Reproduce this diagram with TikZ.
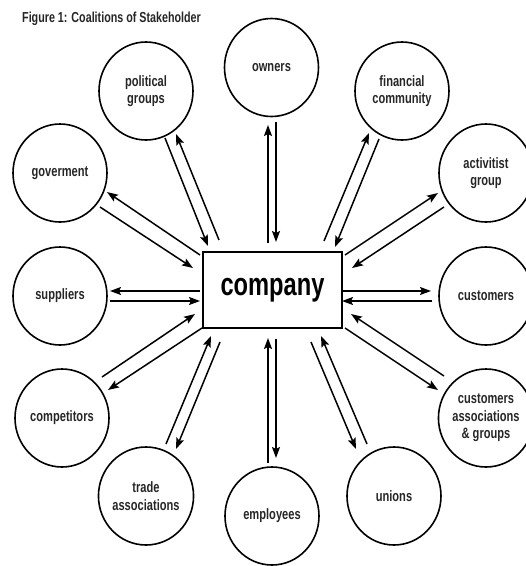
\documentclass[tikz,border=0pt]{standalone}
\usepackage{fontspec}
\setmainfont{Liberation Sans}[FakeStretch=0.74]
\usetikzlibrary{arrows.meta,shapes.geometric}
\tikzset{
  stake/.style={draw=black, line width=1.6pt, ellipse, minimum width=94pt, minimum height=98pt,
    inner sep=0pt, align=center, text=black!85, font=\bfseries\fontsize{15}{17.5}\selectfont},
  compbox/.style={draw=black, line width=2pt, rectangle, minimum width=139pt, minimum height=76pt,
    inner sep=0pt, font=\bfseries\fontsize{32}{36}\selectfont},
  arr/.style={line width=1.5pt, -{Stealth[length=11pt,width=8pt,inset=2pt]}},
  titlestyle/.style={font=\bfseries\fontsize{14.5}{16}\selectfont, text=black!85, inner sep=0pt}
}
\begin{document}
\begin{tikzpicture}[x=1pt,y=-1pt]
\useasboundingbox (0,0) rectangle (526,566);
\node[titlestyle, anchor=base west] (title) at (22,22) {Figure 1: Coalitions of Stakeholder};
\node[compbox] (company) at (272.5,290) {company};
\node[stake] (owners) at (271.5,67.5) {owners};
\node[stake] (pol) at (146,91) {political\\groups};
\node[stake] (fin) at (402,91) {financial\\community};
\node[stake] (gov) at (60,173) {goverment};
\node[stake] (act) at (486,173) {activitist\\group};
\node[stake] (sup) at (60,296) {suppliers};
\node[stake] (cus) at (486,296) {customers};
\node[stake] (com) at (62,418) {competitors};
\node[stake] (cag) at (486,418) {customers\\associations\\\& groups};
\node[stake] (tra) at (146,496) {trade\\associations};
\node[stake] (uni) at (394,496) {unions};
\node[stake] (emp) at (272,516) {employees};
% owners
\draw[arr] ([shift={(-4.5,-47)}]company.center) -- ([shift={(-3.5,57.5)}]owners.center);
\draw[arr] ([shift={(4.5,54.5)}]owners.center) -- ([shift={(3.5,-48)}]company.center);
% political groups
\draw[arr] ([shift={(19,47)}]pol.center) -- ([shift={(-64.5,-44)}]company.center);
\draw[arr] ([shift={(-53.5,-50)}]company.center) -- ([shift={(30,43)}]pol.center);
% government
\draw[arr] ([shift={(-72.5,-35)}]company.center) -- ([shift={(47,19)}]gov.center);
\draw[arr] ([shift={(40,34)}]gov.center) -- ([shift={(-79.5,-22)}]company.center);
% financial community
\draw[arr] ([shift={(51.5,-49)}]company.center) -- ([shift={(-33,42)}]fin.center);
\draw[arr] ([shift={(-23,48)}]fin.center) -- ([shift={(62.5,-43)}]company.center);
% activist group
\draw[arr] ([shift={(72.5,-35)}]company.center) -- ([shift={(-48,20)}]act.center);
\draw[arr] ([shift={(-42,34)}]act.center) -- ([shift={(79.5,-22)}]company.center);
% customers
\draw[arr] ([shift={(69.5,1)}]company.center) -- ([shift={(-55,-5)}]cus.center);
\draw[arr] ([shift={(-54,5)}]cus.center) -- ([shift={(69.5,11)}]company.center);
% suppliers
\draw[arr] ([shift={(-72.5,1)}]company.center) -- ([shift={(50,-5)}]sup.center);
\draw[arr] ([shift={(50,5)}]sup.center) -- ([shift={(-72.5,11)}]company.center);
% competitors
\draw[arr] ([shift={(40,-41)}]com.center) -- ([shift={(-77.5,24)}]company.center);
\draw[arr] ([shift={(-70.5,38)}]company.center) -- ([shift={(46,-28)}]com.center);
% trade associations
\draw[arr] ([shift={(20,-52)}]tra.center) -- ([shift={(-61.5,46)}]company.center);
\draw[arr] ([shift={(-52.5,52)}]company.center) -- ([shift={(30,-47)}]tra.center);
% employees
\draw[arr] ([shift={(-4,-53)}]emp.center) -- ([shift={(-4.5,48)}]company.center);
\draw[arr] ([shift={(3.5,49)}]company.center) -- ([shift={(4,-58)}]emp.center);
% unions
\draw[arr] ([shift={(38.5,52)}]company.center) -- ([shift={(-38,-47)}]uni.center);
\draw[arr] ([shift={(-27,-52)}]uni.center) -- ([shift={(48.5,46)}]company.center);
% customers associations & groups
\draw[arr] ([shift={(72.5,38)}]company.center) -- ([shift={(-48,-28)}]cag.center);
\draw[arr] ([shift={(-42,-42)}]cag.center) -- ([shift={(78.5,24)}]company.center);
\end{tikzpicture}
\end{document}
